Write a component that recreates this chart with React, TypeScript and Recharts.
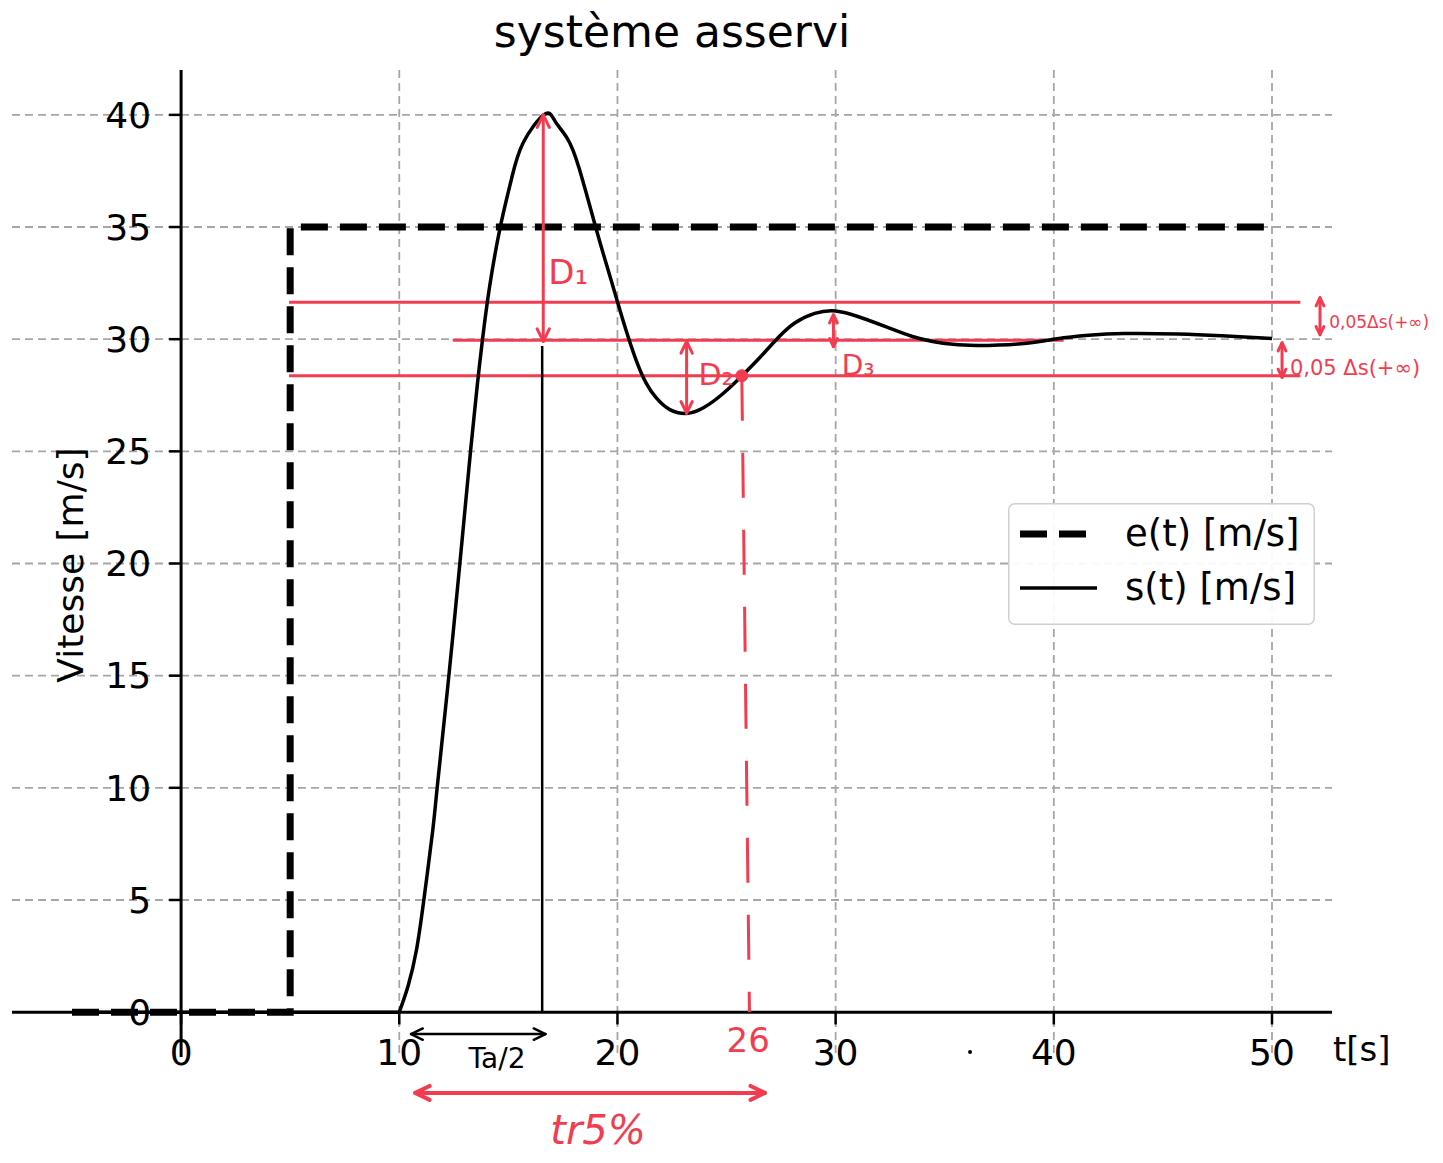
import React from 'react';
import { LineChart, Line, XAxis, YAxis, CartesianGrid, ReferenceLine, ReferenceDot, Legend } from 'recharts';

// ---- data ----
const eT = [-5, 5, 5, 50];
const eV = [0, 0, 35, 35];
// s(t) rests on the axis before t = 10
const sRestT = [-5, 10];
const sRestV = [0, 0];
const sT = [10, 10.41, 10.79, 11.13, 11.53, 11.74, 12.24, 12.78, 13.27, 13.57, 13.82, 14.15, 14.64, 15.15, 15.68, 16.65, 17.14, 17.7, 18.25, 19.0, 19.46, 20.0, 20.39, 20.85, 21.31, 21.78, 22.4, 23.17, 23.94, 24.87, 25.8, 26.57, 27.34, 28.11, 29.04, 30.0, 31.05, 32.29, 33.52, 34.45, 35.38, 36.5, 38.5, 40.16, 41.6, 43.2, 45.7, 47.7, 50];
const sV = [0, 1.19, 2.78, 5.03, 8.07, 10.03, 14.68, 20.03, 25.05, 27.9, 30.03, 32.4, 35.05, 37.17, 38.76, 40.02, 39.72, 38.95, 37.6, 35.0, 33.45, 31.67, 30.41, 29.08, 28.05, 27.38, 26.86, 26.69, 26.94, 27.6, 28.46, 29.23, 30.04, 30.71, 31.15, 31.26, 31.0, 30.56, 30.12, 29.9, 29.77, 29.72, 29.8, 30.02, 30.17, 30.25, 30.23, 30.15, 30.03];
const xTicks = [0, 10, 20, 30, 40, 50];
const yTicks = [0, 5, 10, 15, 20, 25, 30, 35, 40];
const xDomain: [number, number] = [-7.75, 52.75];
const yDomain: [number, number] = [-2, 42];

const seriesNames = ['e(t) [m/s]', 's(t) [m/s]'];
const titleText = 'système asservi';
const yLabelText = 'Vitesse [m/s]';
const xLabelText = 't[s]';

// handwritten annotation values (data space)
const bandUpper = 31.65;
const bandLower = 28.37;
const bandStart = 4.95;
const bandEnd = 51.3;
const finalLevel = 29.95;
const finalStart = 12.45;
const finalEnd = 40.45;
const peakT = 16.55;
const peakV = 40;
const settleT = 25.7;
const settleBottomT = 26.05;

const eData = eT.map((t, i) => ({ t, v: eV[i] }));
const sRestData = sRestT.map((t, i) => ({ t, v: sRestV[i] }));
const sData = sT.map((t, i) => ({ t, v: sV[i] }));

const W = 1443;
const H = 1163;
const RED = '#f23c50';
const FONT = "'DejaVu Sans', sans-serif";

const ArrowShape = (props: any) => {
  const { x1, y1, x2, y2, stroke, strokeWidth, head = 13 } = props;
  const ang = Math.atan2(y2 - y1, x2 - x1);
  const h = (x: number, y: number, a: number) => {
    const p1x = x - head * Math.cos(a - 0.45);
    const p1y = y - head * Math.sin(a - 0.45);
    const p2x = x - head * Math.cos(a + 0.45);
    const p2y = y - head * Math.sin(a + 0.45);
    return `M${p1x},${p1y} L${x},${y} L${p2x},${p2y}`;
  };
  return (
    <g>
      <line x1={x1} y1={y1} x2={x2} y2={y2} stroke={stroke} strokeWidth={strokeWidth} strokeLinecap="round" />
      <path d={`${h(x2, y2, ang)} ${h(x1, y1, ang + Math.PI)}`} fill="none" stroke={stroke} strokeWidth={strokeWidth} strokeLinecap="round" strokeLinejoin="round" />
    </g>
  );
};

const LegendBox = (props: any) => {
  const payload = (props.payload || []).filter((e: any) => e.type !== 'none' && seriesNames.includes(e.value));
  return (
    <svg width={307} height={122} style={{ display: 'block', fontFamily: FONT, overflow: 'visible' }}>
      <rect x={0.75} y={0.75} width={305.5} height={120.5} rx={6} fill="#fff" fillOpacity={0.92} stroke="#d0d0d0" strokeWidth={1.5} />
      {payload.map((entry: any, i: number) => {
        const cy = 31 + i * 54;
        const p = entry.payload || {};
        return (
          <g key={i}>
            <line x1={12} x2={89} y1={cy} y2={cy} stroke={entry.color || '#000'} strokeWidth={p.strokeWidth || 3} strokeDasharray={p.strokeDasharray} />
            <text x={117} y={cy + 12} fontSize={37} fill="#000">{entry.value}</text>
          </g>
        );
      })}
    </svg>
  );
};

const arrow = (head: number) => (p: any) => <ArrowShape {...p} head={head} />;

export default function App() {
  return (
    <div style={{ position: 'absolute', left: 0, top: 0, width: W, height: H, background: '#fff', fontFamily: FONT }}>
      <LineChart width={W} height={H} margin={{ top: 70, right: 111, bottom: 106, left: 12 }}>
        <XAxis type="number" dataKey="t" domain={xDomain} allowDataOverflow ticks={xTicks} hide />
        <YAxis type="number" dataKey="v" domain={yDomain} allowDataOverflow ticks={yTicks} hide />
        <CartesianGrid stroke="#a6a6a6" strokeWidth={1.8} strokeDasharray="8 5" horizontalValues={yTicks} verticalValues={xTicks} />

        {/* spines at zero */}
        <ReferenceLine y={0} stroke="#000" strokeWidth={3} />
        <ReferenceLine x={0} stroke="#000" strokeWidth={3} />

        {/* ticks + tick labels */}
        {xTicks.map((t) => (
          <ReferenceLine key={`xt${t}`} segment={[{ x: t, y: 0 }, { x: t, y: -0.55 }]} stroke="#000" strokeWidth={2.5}
            label={{ value: String(t), position: 'bottom', offset: 15, fontSize: 36, fill: '#000' }} />
        ))}
        {yTicks.map((v) => (
          <ReferenceLine key={`yt${v}`} segment={[{ x: -0.55, y: v }, { x: 0, y: v }]} stroke="#000" strokeWidth={2.5}
            label={{ value: String(v), position: 'left', offset: 18, fontSize: 36, fill: '#000' }} />
        ))}

        {/* hand-drawn annotations */}
        <ReferenceLine segment={[{ x: bandStart, y: bandUpper }, { x: bandEnd, y: bandUpper }]} stroke={RED} strokeWidth={3} />
        <ReferenceLine segment={[{ x: bandStart, y: bandLower }, { x: bandEnd, y: bandLower }]} stroke={RED} strokeWidth={3} />
        <ReferenceLine segment={[{ x: finalStart, y: finalLevel }, { x: finalEnd, y: finalLevel }]} stroke={RED} strokeWidth={3} />
        <ReferenceLine segment={[{ x: peakT, y: 0 }, { x: peakT, y: 29.7 }]} stroke="#000" strokeWidth={2.5} />
        <ReferenceLine segment={[{ x: settleT, y: bandLower }, { x: settleBottomT, y: 0 }]} stroke={RED} strokeWidth={3} strokeDasharray="45 32" />

        <Line data={eData} dataKey="v" name={seriesNames[0]} type="linear" stroke="#000" strokeWidth={7} strokeDasharray="27 12" dot={false} activeDot={false} isAnimationActive={false} />
        <Line data={sRestData} dataKey="v" name="s-rest" legendType="none" type="linear" stroke="#000" strokeWidth={3.5} dot={false} activeDot={false} isAnimationActive={false} />
        <Line data={sData} dataKey="v" name={seriesNames[1]} type="natural" stroke="#000" strokeWidth={3.5} dot={false} activeDot={false} isAnimationActive={false} />

        <ReferenceLine segment={[{ x: 16.6, y: peakV }, { x: 16.6, y: 29.9 }]} stroke={RED} strokeWidth={3} shape={arrow(14)} />
        <ReferenceLine segment={[{ x: 23.17, y: 29.9 }, { x: 23.17, y: 26.7 }]} stroke={RED} strokeWidth={3} shape={arrow(13)} />
        <ReferenceLine segment={[{ x: 29.9, y: 31.09 }, { x: 29.9, y: 29.67 }]} stroke={RED} strokeWidth={3} shape={arrow(9)} />
        <ReferenceLine segment={[{ x: 52.2, y: 31.85 }, { x: 52.2, y: 30.2 }]} stroke={RED} strokeWidth={3} shape={arrow(9)} />
        <ReferenceLine segment={[{ x: 50.46, y: 29.84 }, { x: 50.46, y: 28.3 }]} stroke={RED} strokeWidth={3} shape={arrow(9)} />
        <ReferenceLine segment={[{ x: 10.54, y: -0.98 }, { x: 16.7, y: -0.98 }]} stroke="#000" strokeWidth={2.5} shape={arrow(13)} ifOverflow="visible" />
        <ReferenceLine segment={[{ x: 10.73, y: -3.6 }, { x: 26.76, y: -3.6 }]} stroke={RED} strokeWidth={4} shape={arrow(16)} ifOverflow="visible" />

        <ReferenceDot x={settleT} y={bandLower} r={6} fill={RED} stroke={RED} />
        <ReferenceDot x={36.16} y={-1.78} r={2} fill="#000" stroke="none" />

        <ReferenceDot x={17.74} y={33.0} r={0} stroke="none" label={{ value: 'D₁', position: 'center', fontSize: 34, fill: RED }} />
        <ReferenceDot x={24.52} y={28.41} r={0} stroke="none" label={{ value: 'D₂', position: 'center', fontSize: 30, fill: RED }} />
        <ReferenceDot x={31.03} y={28.86} r={0} stroke="none" label={{ value: 'D₃', position: 'center', fontSize: 28, fill: RED }} />
        <ReferenceDot x={25.99} y={-1.25} r={0} stroke="none" ifOverflow="visible" label={{ value: '26', position: 'center', fontSize: 34, fill: RED }} />
        <ReferenceDot x={14.48} y={-2.05} r={0} stroke="none" ifOverflow="visible" label={{ value: 'Ta/2', position: 'center', fontSize: 28, fill: '#000' }} />
        <ReferenceDot x={19.11} y={-5.26} r={0} stroke="none" ifOverflow="visible" label={{ value: 'tr5%', position: 'center', fontSize: 40, fill: RED, fontStyle: 'italic' }} />
        <ReferenceDot x={52.62} y={30.78} r={0} stroke="none" ifOverflow="visible" label={{ value: '0,05Δs(+∞)', position: 'right', offset: 0, fontSize: 17, fill: RED }} />
        <ReferenceDot x={50.82} y={28.72} r={0} stroke="none" ifOverflow="visible" label={{ value: '0,05 Δs(+∞)', position: 'right', offset: 0, fontSize: 21, fill: RED }} />

        <Legend layout="horizontal" verticalAlign="middle" align="center" content={<LegendBox />}
          wrapperStyle={{ position: 'absolute', left: 1008, top: 503, width: 307, margin: 0 }} />
      </LineChart>
      <svg width={W} height={H} style={{ position: 'absolute', left: 0, top: 0, pointerEvents: 'none' }}>
        <text x={672} y={47} textAnchor="middle" fontSize={44} fill="#000" fontFamily={FONT}>{titleText}</text>
        <text transform="translate(83,565) rotate(-90)" textAnchor="middle" fontSize={36} fill="#000" fontFamily={FONT}>{yLabelText}</text>
        <text x={1333} y={1061} fontSize={34} fill="#000" fontFamily={FONT}>{xLabelText}</text>
      </svg>
    </div>
  );
}
